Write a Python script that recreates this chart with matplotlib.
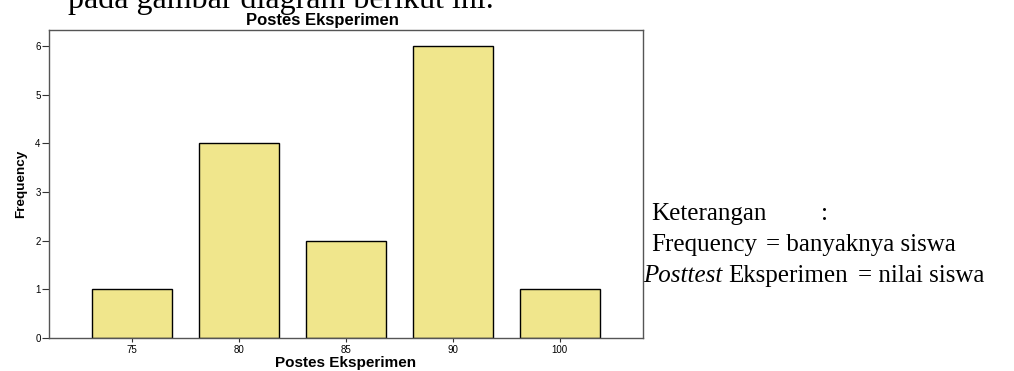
#!/usr/bin/env python
# -*- coding: utf-8 -*-

"""
bar chart of posttest scores for the experiment class.
"""

import matplotlib
matplotlib.use('Agg')
import matplotlib.pyplot as plt

# data
scores = ['75', '80', '85', '90', '100']
frequency = [1, 4, 2, 6, 1]
y_ticks = [0, 1, 2, 3, 4, 5, 6]

W, H = 1014, 371


def fx(px):
    return px / float(W)


def fy(py):
    return 1 - py / float(H)


fig = plt.figure(figsize=(W / 100.0, H / 100.0), dpi=100)
ax = fig.add_axes([fx(49), fy(338), fx(643) - fx(49), fy(30) - fy(338)])

positions = list(range(len(scores)))
ax.bar(positions, frequency, width=0.75, color='#f0e68c', edgecolor='black', linewidth=1.0)

ax.set_xlim(-0.78, 4.78)
ax.set_ylim(0, 6.33)
ax.set_xticks(positions)
ax.set_xticklabels(scores)
ax.set_yticks(y_ticks)

for s in ax.spines.values():
    s.set_color('#555555')
    s.set_linewidth(1.0)

ax.tick_params(axis='y', length=5, width=0.8, colors='#333333', labelsize=7, pad=1)
ax.tick_params(axis='x', length=3, width=0.8, colors='#333333', labelsize=7, pad=2)
for lab in ax.get_xticklabels() + ax.get_yticklabels():
    lab.set_color('black')
    lab.set_family('Liberation Sans')

# title sits a bit left of the axes centre in the original
fig.text(fx(322), fy(21), 'Postes Eksperimen', fontsize=12, fontweight='bold',
         family='Liberation Sans', ha='center', va='center')
ax.set_xlabel('Postes Eksperimen', fontsize=11, fontweight='bold', family='Liberation Sans', labelpad=1)
ax.set_ylabel('Frequency', fontsize=9.7, fontweight='bold', family='Liberation Sans', labelpad=6)

# text from the surrounding document (top line is cut off in the original too)
serif = 'Liberation Serif'
fig.text(fx(68), fy(8), 'pada gambar diagram berikut ini.', fontsize=23, family=serif, va='baseline')

fig.text(fx(651), fy(220), 'Keterangan', fontsize=18, family=serif, va='baseline')
fig.text(fx(821), fy(220), ':', fontsize=18, family=serif, va='baseline')
fig.text(fx(651), fy(251), 'Frequency', fontsize=18, family=serif, va='baseline')
fig.text(fx(766), fy(251), '= banyaknya siswa', fontsize=18, family=serif, va='baseline')
fig.text(fx(643), fy(282), 'Posttest', fontsize=18, family=serif, style='italic', va='baseline')
fig.text(fx(728), fy(282), 'Eksperimen', fontsize=18, family=serif, va='baseline')
fig.text(fx(858), fy(282), '= nilai siswa', fontsize=18, family=serif, va='baseline')

fig.savefig('out.png', dpi=100)
